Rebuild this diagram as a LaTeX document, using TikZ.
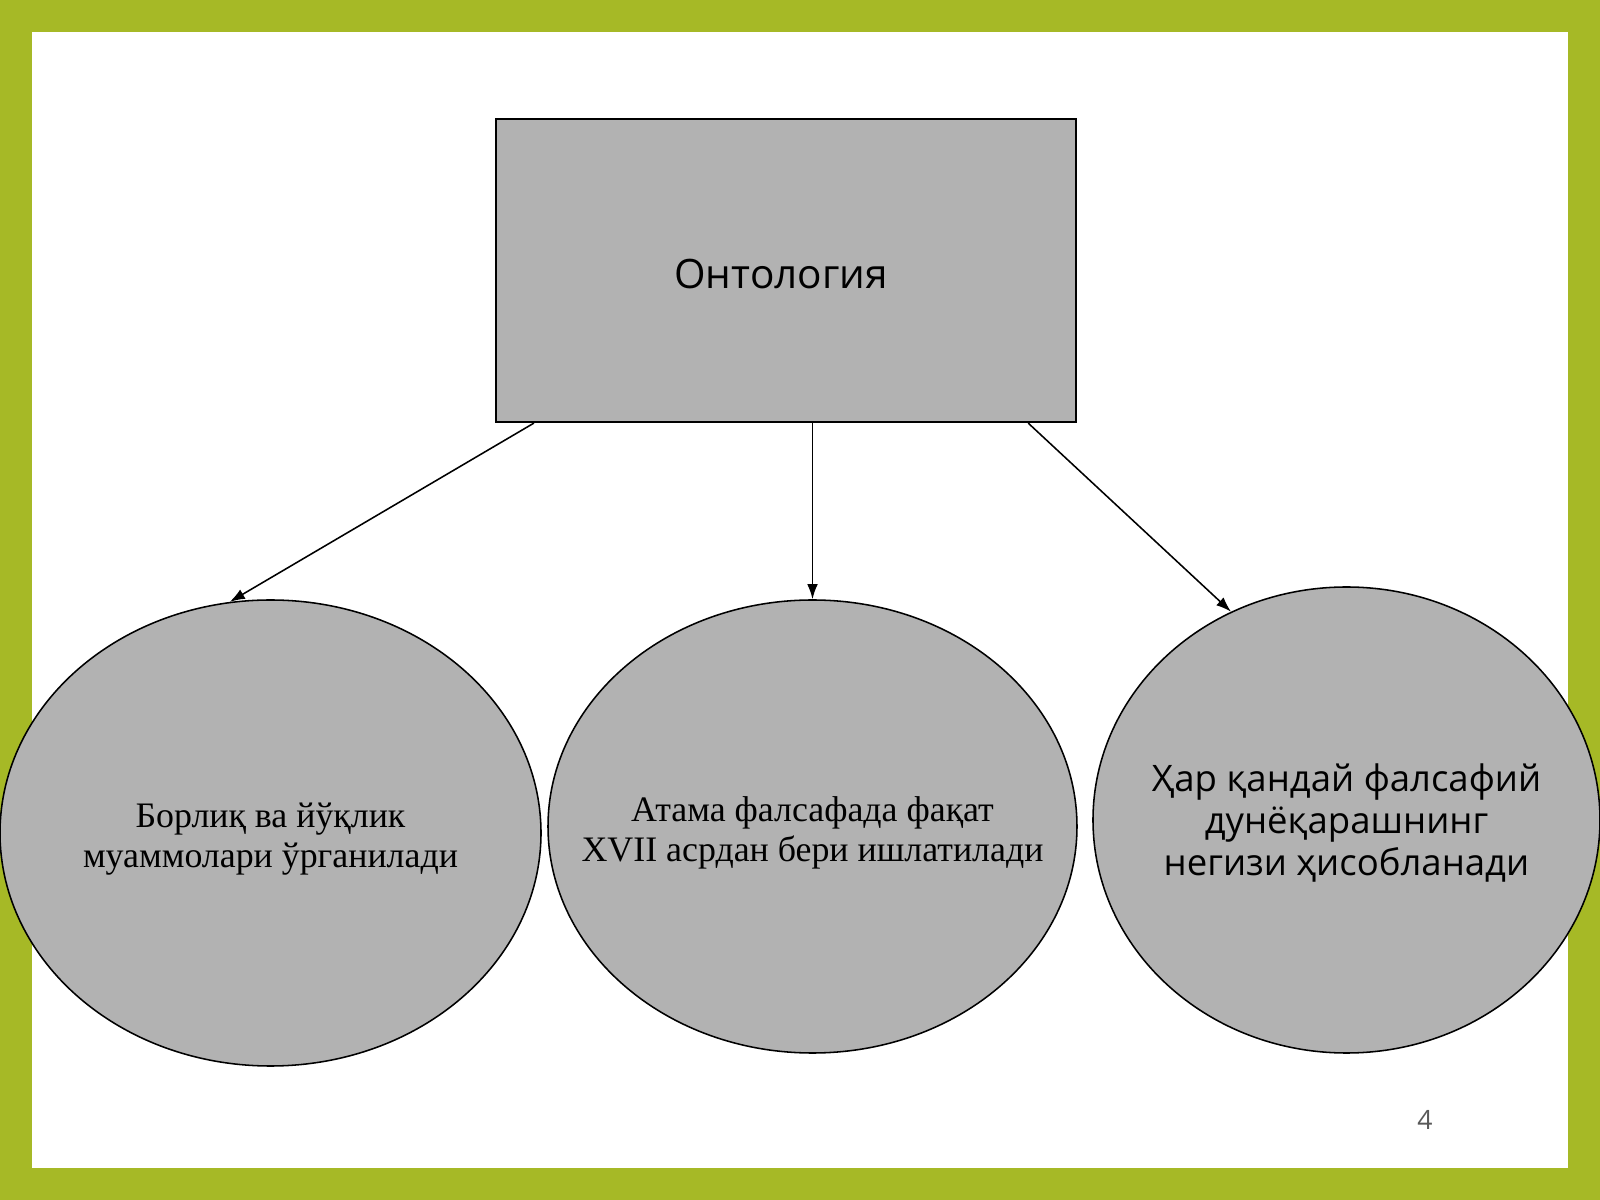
\documentclass[tikz,border=0pt]{standalone}
\usepackage{fontspec}
\setmainfont{Liberation Serif}
\newfontfamily\slidesans{Open Sans}
\usetikzlibrary{shapes.geometric,arrows.meta,calc,positioning}

\definecolor{framegreen}{RGB}{166,185,38}
\definecolor{boxgray}{RGB}{178,178,178}
\definecolor{pagegray}{RGB}{89,89,89}

\tikzset{
  topic/.style={draw=black,line width=1pt,fill=boxgray,inner sep=0pt,
    minimum width=580*0.15875mm,minimum height=303*0.15875mm},
  idea/.style={ellipse,draw=black,line width=0.7pt,fill=boxgray,inner sep=0pt},
  seriftext/.style={align=center,inner sep=0pt,font=\fontsize{16.2}{18.2}\selectfont},
  sanstext/.style={align=center,inner sep=0pt,font=\slidesans\fontsize{16.5}{19}\selectfont},
  link/.style={-{Latex[length=2.4mm,width=1.7mm]},line width=0.7pt}
}

\begin{document}
\begin{tikzpicture}[x=0.15875mm,y=-0.15875mm]
\useasboundingbox (0,0) rectangle (1600,1200);

% slide frame
\fill[framegreen] (0,0) rectangle (1600,1200);
\fill[white] (32,32) rectangle (1568,1168);

\node[topic] (onto) at (786,270.5) {};
\node[font=\slidesans\fontsize{18.3}{22}\selectfont,inner sep=0pt]
  (ontotext) at ([xshift=-0.8mm,yshift=-0.6mm]onto.center) {Онтология};

% three ellipses
\node[idea,minimum width=541*0.15875mm,minimum height=466*0.15875mm] (being) at (270.5,833) {};
\node[idea,minimum width=529*0.15875mm,minimum height=453*0.15875mm] (term) at (812.5,826.5) {};
\node[idea,minimum width=507*0.15875mm,minimum height=466*0.15875mm] (basis) at (1346.5,820) {};

\node[seriftext] (beingtext) at ([yshift=-1mm]being.center) {Борлиқ ва йўқлик\\муаммолари ўрганилади};
\node[seriftext] (termtext) at ([yshift=-1mm]term.center) {Атама фалсафада фақат\\XVII асрдан бери ишлатилади};
\node[sanstext] (basistext) at ([yshift=-0.5mm]basis.center) {Ҳар қандай фалсафий\\дунёқарашнинг\\негизи ҳисобланади};

\draw[link] ($(onto.south west)!0.067!(onto.south east)$) -- (being.100);
\draw[link] (onto.south -| term.north) -- (term.north);
\draw[link] ($(onto.south west)!0.916!(onto.south east)$) -- (basis.119);

\node[font=\slidesans\fontsize{12}{14}\selectfont,text=pagegray] (page) at (1425,1120) {4};
\end{tikzpicture}
\end{document}
